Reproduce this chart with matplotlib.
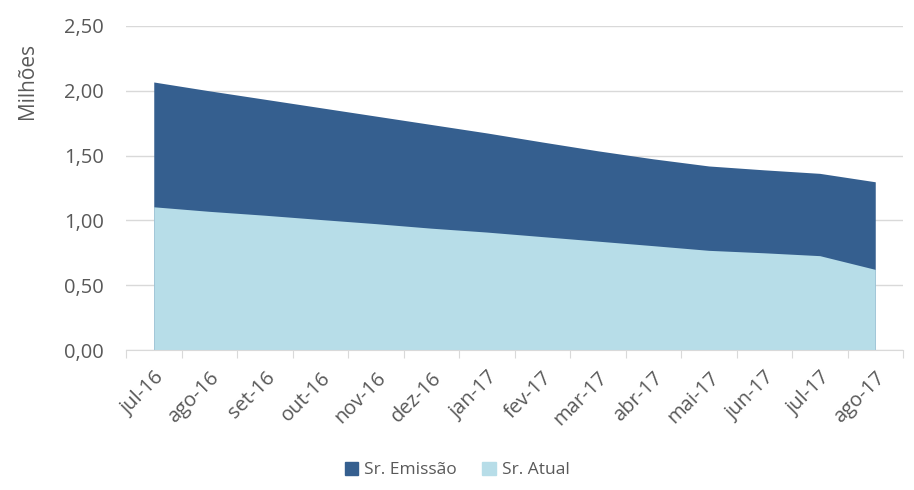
import numpy as np
import matplotlib.pyplot as plt
from matplotlib.patches import Patch

meses = ['jul-16', 'ago-16', 'set-16', 'out-16', 'nov-16', 'dez-16', 'jan-17',
         'fev-17', 'mar-17', 'abr-17', 'mai-17', 'jun-17', 'jul-17', 'ago-17']
sr_emissao = [2.068, 2.00, 1.935, 1.87, 1.805, 1.74, 1.675,
              1.605, 1.537, 1.475, 1.42, 1.39, 1.363, 1.298]
sr_atual = [1.105, 1.07, 1.04, 1.007, 0.975, 0.94, 0.91,
            0.875, 0.84, 0.805, 0.769, 0.75, 0.728, 0.622]

plt.rcParams['font.family'] = ['Open Sans', 'DejaVu Sans']
cinza = '#595959'
cor_emissao = '#355F8F'
cor_atual = '#B7DDE8'

fig = plt.figure(figsize=(9.14, 4.9), dpi=100)
ax = fig.add_axes([126 / 914, 1 - 350 / 490, (903 - 126) / 914, (350 - 26) / 490])

x = np.arange(len(meses))
ax.fill_between(x, 0, sr_emissao, color=cor_emissao, lw=0, zorder=2)
ax.fill_between(x, 0, sr_atual, color=cor_atual, lw=0, zorder=3)

ax.set_xlim(-0.5, len(meses) - 0.5)
ax.set_ylim(0, 2.5)
ax.set_yticks(np.arange(0, 2.51, 0.5))
ax.set_yticklabels([f'{v:.2f}'.replace('.', ',') for v in np.arange(0, 2.51, 0.5)])
ax.grid(axis='y', color='#d9d9d9', lw=1, zorder=0)

# ticks nas fronteiras, rótulos no centro
ax.set_xticks(np.arange(-0.5, len(meses)), minor=False)
ax.set_xticklabels([])
ax.set_xticks(x, minor=True)
ax.set_xticklabels(meses, minor=True, rotation=45, ha='right', rotation_mode='anchor')
ax.tick_params(axis='x', which='major', length=6, color='#d9d9d9')
ax.tick_params(axis='x', which='minor', length=0, pad=13, labelsize=14.5, labelcolor=cinza)
ax.tick_params(axis='y', length=0, labelsize=14.5, labelcolor=cinza, pad=16)

for s in ['top', 'right', 'left']:
    ax.spines[s].set_visible(False)
ax.spines['bottom'].set_color('#d9d9d9')
ax.spines['bottom'].set_zorder(4)

ax.set_ylabel('Milhões', fontsize=15, color=cinza)
ax.yaxis.set_label_coords(-(126 - 38) / 777, 0.83)

handles = [Patch(color=cor_emissao, label='Sr. Emissão'),
           Patch(color=cor_atual, label='Sr. Atual')]
fig.legend(handles=handles, loc='center', bbox_to_anchor=(0.5, 1 - 470 / 490), ncol=2,
           frameon=False, fontsize=12.5, labelcolor=cinza, handlelength=0.8,
           handleheight=0.8, handletextpad=0.3, columnspacing=1.5)

fig.savefig('out.png', dpi=100)
